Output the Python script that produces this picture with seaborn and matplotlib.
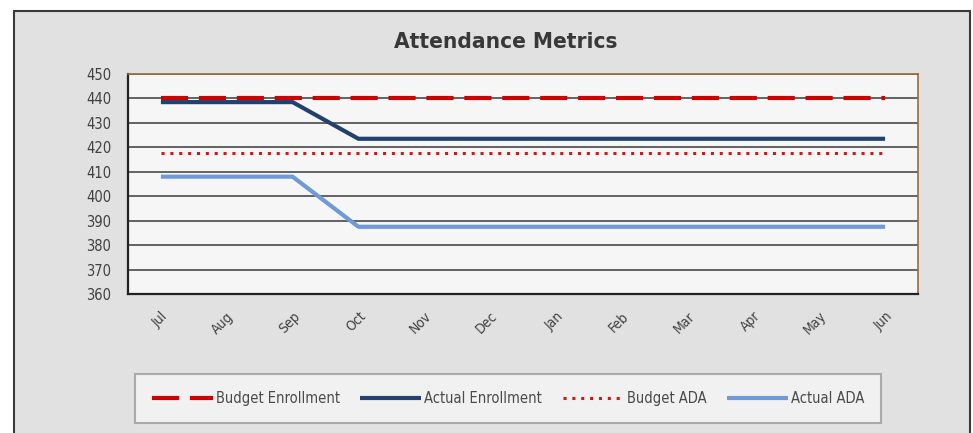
import pandas as pd
import numpy as np
import matplotlib.pyplot as plt
import seaborn as sns
from matplotlib.patches import Rectangle

months = ["Jul", "Aug", "Sep", "Oct", "Nov", "Dec", "Jan", "Feb", "Mar", "Apr", "May", "Jun"]
budget_enrollment = [440, 440, 440, 440, 440, 440, 440, 440, 440, 440, 440, 440]
actual_enrollment = [438.5, 438.5, 438.5, 423.5, 423.5, 423.5, 423.5, 423.5, 423.5, 423.5, 423.5, 423.5]
budget_ada = [417.5, 417.5, 417.5, 417.5, 417.5, 417.5, 417.5, 417.5, 417.5, 417.5, 417.5, 417.5]
actual_ada = [408, 408, 408, 387.5, 387.5, 387.5, 387.5, 387.5, 387.5, 387.5, 387.5, 387.5]
series_names = ["Budget Enrollment", "Actual Enrollment", "Budget ADA", "Actual ADA"]
y_ticks = [360, 370, 380, 390, 400, 410, 420, 430, 440, 450]

colors = {"Budget Enrollment": "#cc0000", "Actual Enrollment": "#23416f",
          "Budget ADA": "#d01818", "Actual ADA": "#6f9ad8"}
dashes = {"Budget Enrollment": (6.5, 2.6), "Actual Enrollment": "",
          "Budget ADA": (1, 1.9), "Actual ADA": ""}
widths = {"Budget Enrollment": 3.0, "Actual Enrollment": 3.0, "Budget ADA": 2.2, "Actual ADA": 3.0}

sns.set_style("white")
plt.rcParams["font.family"] = ["DejaVu Sans"]
plt.rcParams["font.stretch"] = "condensed"
TEXT = "#404040"

rows = []
for name, vals in zip(series_names, [budget_enrollment, actual_enrollment, budget_ada, actual_ada]):
    for i, v in enumerate(vals):
        rows.append({"pos": i, "month": months[i], "value": v, "series": name})
df = pd.DataFrame(rows)

fig = plt.figure(figsize=(9.73, 4.33), dpi=100, facecolor="white")
W, H = 973, 433
# chart frame (Excel style grey chart area)
fig.patches.append(Rectangle((14 / W, -0.05), 956 / W, (H - 11) / H + 0.05, transform=fig.transFigure,
                             facecolor="#e1e1e1", edgecolor="#3a3a3a", linewidth=1.5, zorder=-5))

ax = fig.add_axes([128 / W, 1 - 294 / H, 790 / W, 220 / H])
ax.set_facecolor("#f6f6f6")

sns.lineplot(data=df, x="pos", y="value", hue="series", style="series", hue_order=series_names,
             style_order=series_names, palette=colors, dashes=dashes, linewidth=3, ax=ax,
             legend=False, solid_capstyle="butt", dash_capstyle="butt")
for line, name in zip(ax.lines, series_names):
    line.set_linewidth(widths[name])
    line.set_label(name)
    line.set_zorder(3)

ax.set_xlim(-0.5, 11.5)
ax.set_ylim(360, 450)
ax.set_yticks(y_ticks)
ax.yaxis.grid(True, color="#4a4a4a", linewidth=1.2, zorder=1)
ax.set_axisbelow(True)
ax.tick_params(axis="y", length=4, width=1.2, color="#333333", pad=8, labelsize=10.5, labelcolor=TEXT)

ax.set_xticks(range(len(months)))
ax.set_xticklabels(months, rotation=45, ha="right", rotation_mode="anchor")
ax.set_xticks(np.arange(-0.5, 12, 1), minor=True)
ax.tick_params(axis="x", which="major", length=0, pad=11, labelsize=10, labelcolor=TEXT)
ax.tick_params(axis="x", which="minor", direction="in", length=5, width=1.2, color="#222222")
ax.set_xlabel("")
ax.set_ylabel("")

for side in ["top", "right"]:
    ax.spines[side].set_color("#9a6a3a")
    ax.spines[side].set_linewidth(1.2)
for side in ["left", "bottom"]:
    ax.spines[side].set_color("#222222")
    ax.spines[side].set_linewidth(1.6)

fig.text(506 / W, 1 - 42 / H, "Attendance Metrics", ha="center", va="center",
         fontsize=16.2, fontweight="bold", color="#383838")

leg = fig.legend(handles=ax.lines[:4], labels=series_names, loc="center",
                 bbox_to_anchor=(508 / W, 1 - 398.5 / H), ncol=4, frameon=True, fancybox=False,
                 handlelength=4.2, handletextpad=0.2, columnspacing=1.4, borderpad=1.15,
                 fontsize=10.5)
leg.get_frame().set_facecolor("#f6f6f6")
leg.get_frame().set_edgecolor("#9a9a9a")
leg.get_frame().set_linewidth(1.5)
for t in leg.get_texts():
    t.set_color("#4a4a4a")

fig.savefig("out.png", dpi=100, facecolor=fig.get_facecolor())
